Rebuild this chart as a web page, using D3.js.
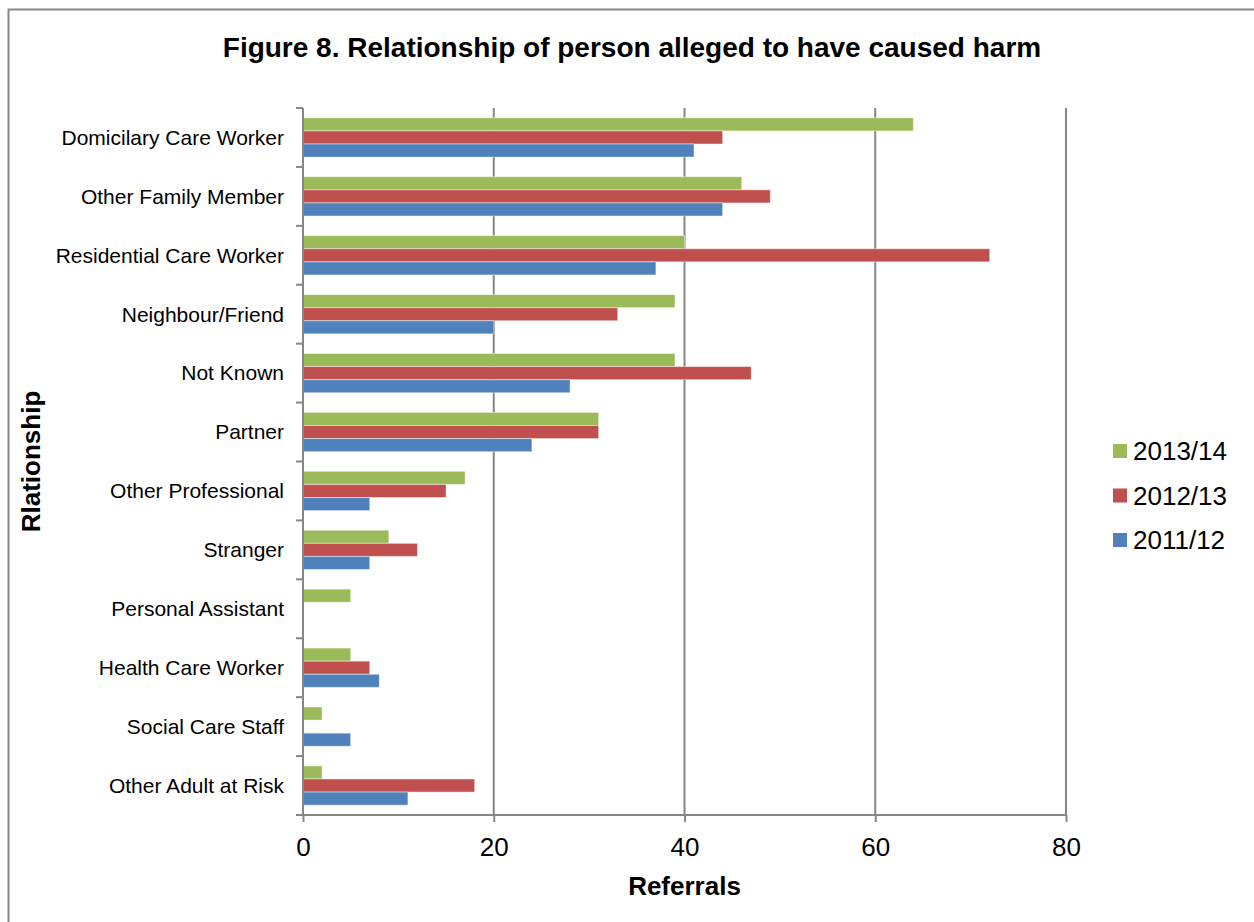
<!DOCTYPE html>
<html>
<head>
<meta charset="utf-8">
<script src="https://cdn.jsdelivr.net/npm/d3@7/dist/d3.min.js"></script>
<style>
  html, body { margin: 0; padding: 0; background: #fff; }
  svg { display: block; font-family: "Liberation Sans", Arial, sans-serif; }
</style>
</head>
<body>
<svg id="chart" width="1254" height="922"></svg>
<script>
// Relationship categories, top to bottom
const categories = [
  "Domicilary Care Worker",
  "Other Family Member",
  "Residential Care Worker",
  "Neighbour/Friend",
  "Not Known",
  "Partner",
  "Other Professional",
  "Stranger",
  "Personal Assistant",
  "Health Care Worker",
  "Social Care Staff",
  "Other Adult at Risk"
];

// Series labels (legend order) and referral counts per year
const seriesNames = ["2013/14", "2012/13", "2011/12"];
const values2013 = [64, 46, 40, 39, 39, 31, 17, 9, 5, 5, 2, 2];
const values2012 = [44, 49, 72, 33, 47, 31, 15, 12, 0, 7, 0, 18];
const values2011 = [41, 44, 37, 20, 28, 24, 7, 7, 0, 8, 5, 11];
const seriesColors = ["#9BBB59", "#C0504D", "#4F81BD"];

const xTicks = [0, 20, 40, 60, 80];

const seriesValues = [values2013, values2012, values2011];
const rows = categories.map((c, i) => ({
  category: c,
  items: seriesNames.map((s, j) => ({ series: s, value: seriesValues[j][i] }))
}));

const svg = d3.select("#chart");
const gridColor = "#868686";

// Outer chart frame
svg.append("rect")
  .attr("x", 8.5).attr("y", 9.5)
  .attr("width", 1300).attr("height", 1000)
  .attr("fill", "#fff")
  .attr("stroke", gridColor).attr("stroke-width", 2);

// Title
svg.append("text")
  .attr("x", 632).attr("y", 57)
  .attr("text-anchor", "middle")
  .attr("font-weight", "bold").attr("font-size", 28)
  .text("Figure 8. Relationship of person alleged to have caused harm");

const plot = { left: 303, right: 1066, top: 108, bottom: 815 };

const x = d3.scaleLinear().domain([0, 80]).range([plot.left, plot.right]);
const y = d3.scaleBand().domain(categories).range([plot.top, plot.bottom]).padding(0);
const ySub = d3.scaleBand().domain(seriesNames).range([0, y.bandwidth()])
  .paddingInner(0).paddingOuter(0.75);
const color = d3.scaleOrdinal().domain(seriesNames).range(seriesColors);

// Vertical gridlines
svg.append("g")
  .selectAll("line")
  .data(xTicks.filter(t => t > 0))
  .join("line")
  .attr("x1", d => x(d)).attr("x2", d => x(d))
  .attr("y1", plot.top).attr("y2", plot.bottom)
  .attr("stroke", gridColor).attr("stroke-width", 2);

// Bars
const groups = svg.append("g")
  .selectAll("g")
  .data(rows)
  .join("g")
  .attr("transform", d => `translate(0,${y(d.category)})`);

groups.selectAll("rect")
  .data(d => d.items.filter(it => it.value > 0))
  .join("rect")
  .attr("x", x(0))
  .attr("y", d => ySub(d.series))
  .attr("width", d => x(d.value) - x(0))
  .attr("height", ySub.bandwidth())
  .attr("fill", d => color(d.series))
  .attr("stroke", "rgba(255,255,255,0.45)")
  .attr("stroke-width", 1);

// X axis
const xAxis = d3.axisBottom(x).tickValues(xTicks).tickSize(7).tickSizeOuter(0);
const gx = svg.append("g")
  .attr("transform", `translate(0,${plot.bottom})`)
  .call(xAxis);
gx.select(".domain").remove();
gx.append("line")
  .attr("x1", plot.left - 7).attr("x2", plot.right)
  .attr("stroke", gridColor).attr("stroke-width", 2);
gx.selectAll(".tick line").attr("stroke", gridColor).attr("stroke-width", 2);
gx.selectAll(".tick text")
  .attr("y", 0).attr("dy", null)
  .attr("transform", "translate(0,41)")
  .attr("font-size", 26)
  .attr("font-family", "'Liberation Sans', Arial, sans-serif")
  .attr("fill", "#000");

// Y axis: category boundary ticks and labels
const gy = svg.append("g");
gy.append("line")
  .attr("x1", plot.left).attr("x2", plot.left)
  .attr("y1", plot.top).attr("y2", plot.bottom)
  .attr("stroke", gridColor).attr("stroke-width", 2);
const boundaries = categories.map(c => y(c)).concat([plot.bottom]);
gy.selectAll("line.tick")
  .data(boundaries)
  .join("line")
  .attr("class", "tick")
  .attr("x1", plot.left - 7).attr("x2", plot.left)
  .attr("y1", d => d).attr("y2", d => d)
  .attr("stroke", gridColor).attr("stroke-width", 2);
gy.selectAll("text")
  .data(categories)
  .join("text")
  .attr("x", 284)
  .attr("y", d => y(d) + y.bandwidth() / 2)
  .attr("dy", "0.35em")
  .attr("text-anchor", "end")
  .attr("font-size", 21)
  .text(d => d);

// Axis titles
svg.append("text")
  .attr("x", (plot.left + plot.right) / 2).attr("y", 895)
  .attr("text-anchor", "middle")
  .attr("font-weight", "bold").attr("font-size", 26)
  .text("Referrals");

svg.append("text")
  .attr("transform", `translate(40,${(plot.top + plot.bottom) / 2}) rotate(-90)`)
  .attr("text-anchor", "middle")
  .attr("font-weight", "bold").attr("font-size", 26)
  .text("Rlationship");

// Legend
const legend = svg.append("g")
  .selectAll("g")
  .data(seriesNames)
  .join("g")
  .attr("transform", (d, i) => `translate(1113,${451 + i * 44.5})`);
legend.append("rect")
  .attr("x", 0).attr("y", -7)
  .attr("width", 14).attr("height", 14)
  .attr("fill", d => color(d));
legend.append("text")
  .attr("x", 20).attr("y", 0).attr("dy", "0.35em")
  .attr("font-size", 26)
  .text(d => d);
</script>
</body>
</html>
